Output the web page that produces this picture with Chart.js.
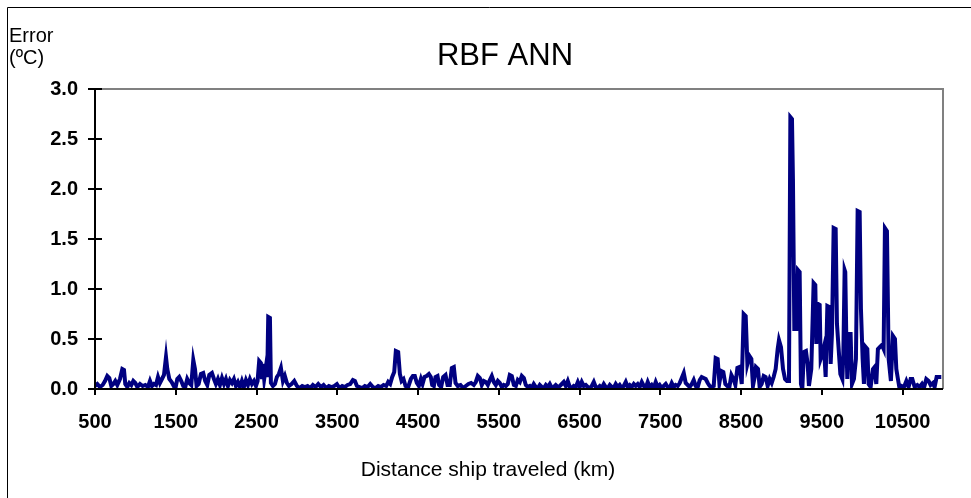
<!DOCTYPE html>
<html>
<head>
<meta charset="utf-8">
<script src="https://cdn.jsdelivr.net/npm/chart.js@4.4.1/dist/chart.umd.min.js"></script>
<style>
html,body{margin:0;padding:0;background:#fff;}
#wrap{width:971px;height:498px;position:relative;}
</style>
</head>
<body>
<div id="wrap"><canvas id="c" width="971" height="498"></canvas></div>
<script>
const chartTitle = "RBF ANN";
const yTitleLines = ["Error", "(ºC)"];
const xTitle = "Distance ship traveled (km)";
const xTickValues = [500, 1500, 2500, 3500, 4500, 5500, 6500, 7500, 8500, 9500, 10500];
const yTickValues = [0, 0.5, 1, 1.5, 2, 2.5, 3];

const distanceKm = [
500,529,562,595,624,652,677,702,727,751,776,809,838,859,875,900,925,950,974,999,
1024,1057,1090,1123,1156,1181,1205,1230,1255,1280,1304,1329,1354,1379,1395,1420,1449,1469,1494,1519,
1543,1568,1593,1618,1642,1667,1692,1717,1738,1758,1783,1812,1840,1865,1890,1915,1948,1973,1997,2022,
2047,2072,2097,2121,2146,2171,2196,2220,2245,2270,2295,2319,2344,2369,2394,2418,2443,2468,2493,
2513,2533,2554,2567,2579,2595,2616,2632,2645,2666,2678,2703,2728,2752,2777,2802,2827,2851,2876,2901,
2934,2967,3000,3033,3066,3099,3132,3165,3198,3231,3264,3297,3330,3363,3396,3429,3462,3495,3528,3561,
3594,3627,3660,3693,3718,3743,3776,3809,3842,3875,3908,3941,3974,4007,4040,4073,4106,4130,4155,4180,
4205,4225,4254,4275,4296,4320,4345,4378,4411,4436,4460,4485,4510,4535,
4556,4580,4605,4634,4658,4675,4696,4716,4741,4761,4786,4811,4840,4865,4893,4918,4943,4964,4992,5026,
5058,5091,5124,5157,5190,5215,5240,5265,5289,5314,5339,5364,5389,5413,5438,5463,5488,5512,5537,5562,
5587,5611,5636,5661,5686,5711,5735,5760,5785,5810,5834,5859,5884,5908,5933,5958,5983,6007,6032,6057,
6082,6106,6131,6156,6181,6205,6230,6255,6280,6304,6329,6354,6379,6403,6428,6453,6478,6503,6527,6552,6577,
6601,6626,6651,6676,6700,6725,6750,6775,6800,6824,6849,6874,6898,6923,6948,6973,6997,7022,7047,7072,
7096,7121,7146,7171,7195,7220,7245,7270,7295,7319,7344,7369,7393,7418,7443,7468,7492,7517,7542,7567,
7591,7616,7641,7666,7690,7715,7740,7765,7790,7814,7839,7864,7889,7913,7938,7963,7988,8012,8037,8062,
8087,8111,8136,8161,8185,8210,8231,8256,8280,8305,8330,8355,8380,8405,8429,8454,8483,8508,8532,8557,
8578,8603,8627,
8647,8668,8684,8709,8730,8755,8780,8804,8829,8854,8879,8903,8928,8953,8969,8994,9019,9044,9068,9093,
9110,9130,9142,9159,9184,9204,9225,9241,9258,9278,9303,9324,9340,9369,9398,9419,9431,9452,9473,9485,
9506,9526,9547,9568,9592,9609,9625,9646,9671,9687,9708,9729,9754,9766,9782,
9790,9803,9815,9831,9856,9873,9897,9922,9943,9968,9984,10005,10021,10042,10063,10079,10104,10133,10153,10174,
10194,10219,10244,10265,10281,10306,10327,10355,10380,10405,10422,10442,10463,10488,10517,10546,10574,10599,10620,10649,
10682,10710,10739,10764,10793,10822,10846,10875,10896,10921,10954,10979
];

const errorC = [
0.03,0.05,0.02,0.04,0.08,0.13,0.11,0.03,0.05,0.08,0.04,0.10,0.20,0.19,0.05,0.02,0.06,0.04,0.08,0.06,
0.02,0.05,0.03,0.04,0.02,0.08,0.03,0.05,0.04,0.12,0.06,0.10,0.14,0.32,0.20,0.10,0.07,0.04,0.00,0.10,
0.12,0.08,0.03,0.02,0.10,0.06,0.04,0.29,0.20,0.03,0.05,0.15,0.16,0.08,0.04,0.14,0.16,0.10,0.05,0.10,
0.04,0.11,0.05,0.10,0.03,0.09,0.06,0.10,0.03,0.07,0.02,0.08,0.02,0.09,0.04,0.10,0.05,0.08,0.03,
0.08,0.28,0.26,0.10,0.25,0.10,0.22,0.12,0.72,0.71,0.06,0.03,0.05,0.12,0.15,0.21,0.08,0.13,0.06,0.03,
0.05,0.08,0.03,0.01,0.03,0.02,0.03,0.01,0.04,0.02,0.05,0.02,0.04,0.01,0.03,0.02,0.03,0.05,0.01,0.03,
0.02,0.04,0.05,0.09,0.08,0.03,0.02,0.01,0.03,0.02,0.05,0.02,0.01,0.03,0.02,0.04,0.03,0.07,0.05,0.12,
0.17,0.38,0.37,0.15,0.08,0.10,0.03,0.02,0.10,0.13,0.13,0.06,0.03,0.10,
0.05,0.12,0.13,0.15,0.12,0.04,0.03,0.12,0.13,0.04,0.02,0.12,0.14,0.04,0.04,0.21,0.22,0.06,0.03,0.04,
0.01,0.03,0.05,0.06,0.04,0.07,0.13,0.11,0.04,0.08,0.07,0.04,0.09,0.13,0.07,0.04,0.08,0.06,0.02,0.04,
0.03,0.05,0.14,0.13,0.04,0.03,0.09,0.07,0.13,0.11,0.04,0.02,0.03,0.01,0.05,0.02,0.01,0.04,0.02,0.01,
0.04,0.02,0.05,0.01,0.02,0.04,0.02,0.03,0.05,0.07,0.03,0.08,0.02,0.01,0.03,0.02,0.07,0.02,0.07,0.03,0.04,
0.02,0.01,0.03,0.07,0.02,0.01,0.03,0.01,0.05,0.02,0.01,0.04,0.02,0.01,0.05,0.02,0.04,0.01,0.03,0.07,
0.02,0.04,0.02,0.05,0.03,0.05,0.02,0.07,0.03,0.01,0.07,0.02,0.04,0.01,0.07,0.02,0.04,0.01,0.03,0.05,
0.02,0.01,0.06,0.02,0.04,0.03,0.06,0.11,0.16,0.06,0.04,0.02,0.05,0.09,0.03,0.02,0.09,0.12,0.11,0.10,
0.06,0.03,0.02,0.03,0.31,0.30,0.06,0.18,0.17,0.05,0.03,0.02,0.14,0.10,0.04,0.21,0.22,0.05,0.75,0.73,
0.25,0.33,0.30,
0.03,0.12,0.22,0.20,0.02,0.05,0.13,0.12,0.03,0.10,0.06,0.12,0.20,0.40,0.49,0.42,0.20,0.10,0.08,0.08,
2.72,2.70,2.10,0.60,0.60,1.19,1.17,0.05,0.00,0.37,0.38,0.25,0.03,0.20,1.06,1.04,0.45,0.85,0.84,0.30,
0.35,0.42,0.12,0.83,0.82,0.25,0.55,1.61,1.60,0.65,0.40,0.15,0.10,0.35,1.19,
1.17,0.50,0.10,0.55,0.55,0.05,0.10,0.30,1.78,1.77,0.80,0.30,0.05,0.42,0.40,0.05,0.02,0.20,0.22,0.05,
0.40,0.42,0.44,0.40,1.61,1.58,0.30,0.08,0.53,0.50,0.20,0.10,0.00,0.03,0.02,0.08,0.02,0.10,0.10,0.02,
0.04,0.02,0.05,0.01,0.10,0.08,0.04,0.06,0.02,0.12,0.12,0.12
];

const FONT = "'Liberation Sans', Arial, sans-serif";
const points = distanceKm.map((d, i) => ({x: d, y: errorC[i]}));

const decor = {
  id: 'decor',
  beforeDraw(chart) {
    const ctx = chart.ctx;
    ctx.save();
    ctx.fillStyle = '#fff';
    ctx.fillRect(0, 0, chart.width, chart.height);
    ctx.restore();
  },
  beforeDatasetsDraw(chart) {
    const ctx = chart.ctx;
    const a = chart.chartArea;
    ctx.save();
    ctx.strokeStyle = '#808080';
    ctx.lineWidth = 2;
    ctx.beginPath();
    ctx.moveTo(a.left, a.top);
    ctx.lineTo(a.right, a.top);
    ctx.lineTo(a.right, a.bottom);
    ctx.stroke();
    ctx.restore();
  },
  afterDraw(chart) {
    const ctx = chart.ctx;
    const a = chart.chartArea;
    const ys = chart.scales.y;
    ctx.save();
    ctx.strokeStyle = '#000';
    ctx.lineWidth = 1;
    ctx.beginPath();
    ctx.moveTo(7.5, chart.height);
    ctx.lineTo(7.5, 7.5);
    ctx.lineTo(chart.width, 7.5);
    ctx.stroke();
    ctx.lineWidth = 2;
    ctx.beginPath();
    yTickValues.forEach(v => {
      const py = ys.getPixelForValue(v);
      ctx.moveTo(a.left, py);
      ctx.lineTo(a.left + 7, py);
    });
    ctx.stroke();
    ctx.beginPath();
    ctx.moveTo(a.left, a.top - 1);
    ctx.lineTo(a.left, a.bottom);
    ctx.lineTo(a.right, a.bottom);
    ctx.stroke();
    ctx.fillStyle = '#000';
    ctx.textBaseline = 'alphabetic';
    ctx.textAlign = 'center';
    ctx.font = '31px ' + FONT;
    ctx.fillText(chartTitle, 505, 65);
    ctx.textAlign = 'left';
    ctx.font = '20px ' + FONT;
    ctx.fillText(yTitleLines[0], 9, 42);
    ctx.fillText(yTitleLines[1], 9, 64);
    ctx.textAlign = 'center';
    ctx.font = '21px ' + FONT;
    ctx.fillText(xTitle, 488, 476);
    ctx.restore();
  }
};

new Chart(document.getElementById('c'), {
  type: 'line',
  data: {
    datasets: [{
      data: points,
      borderColor: '#000080',
      borderWidth: 4,
      pointRadius: 0,
      tension: 0,
      fill: false
    }]
  },
  options: {
    responsive: false,
    animation: false,
    layout: {padding: {left: 0, right: 28, top: 89, bottom: 0}},
    plugins: {legend: {display: false}, title: {display: false}, tooltip: {enabled: false}},
    scales: {
      x: {
        type: 'linear',
        min: 500,
        max: 11000,
        afterBuildTicks: (axis) => { axis.ticks = xTickValues.map(v => ({value: v})); },
        afterFit: (axis) => { axis.height = 109; },
        grid: {display: true, drawOnChartArea: false, drawTicks: true, tickLength: 6, color: '#000', lineWidth: 2},
        border: {display: false},
        ticks: {
          color: '#000',
          font: {family: FONT, size: 20, weight: 'bold'},
          padding: 15,
          maxRotation: 0,
          autoSkip: false,
          callback: (v) => String(v)
        }
      },
      y: {
        type: 'linear',
        min: 0,
        max: 3,
        afterBuildTicks: (axis) => { axis.ticks = yTickValues.map(v => ({value: v})); },
        afterFit: (axis) => { axis.width = 95; },
        grid: {display: true, drawOnChartArea: false, drawTicks: true, tickLength: 7, color: '#000', lineWidth: 2},
        border: {display: false},
        ticks: {
          color: '#000',
          font: {family: FONT, size: 20, weight: 'bold'},
          padding: 10,
          callback: (v) => Number(v).toFixed(1)
        }
      }
    }
  },
  plugins: [decor]
});
</script>
</body>
</html>
